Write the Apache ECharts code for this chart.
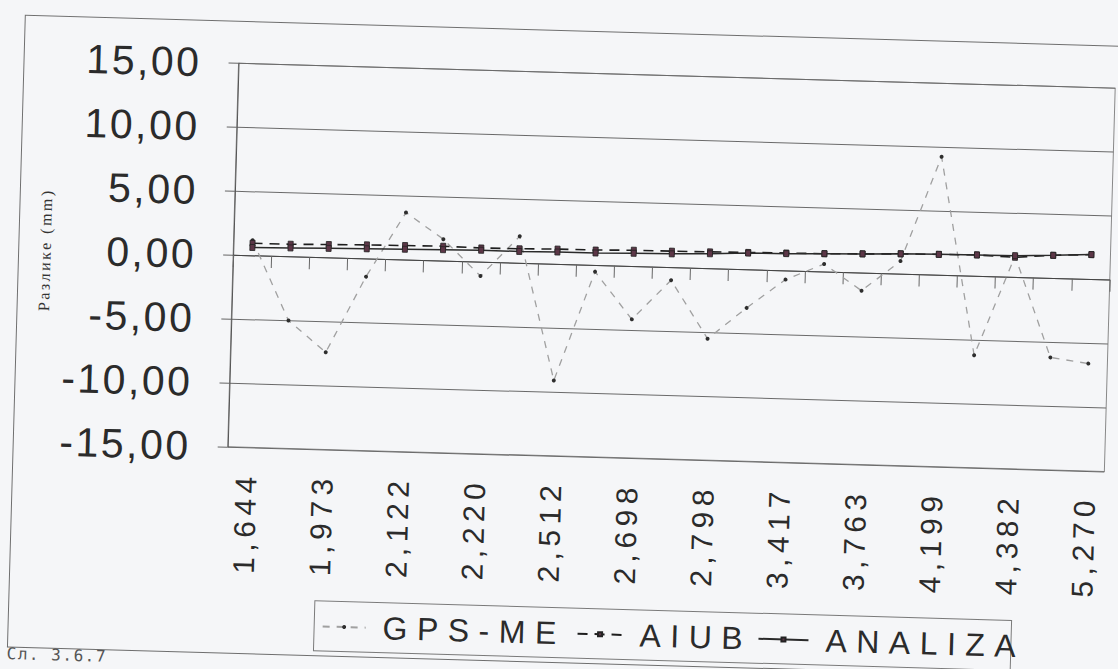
<!DOCTYPE html>
<html>
<head>
<meta charset="utf-8">
<script src="https://cdn.jsdelivr.net/npm/echarts@6/dist/echarts.min.js"></script>
<style>
  html, body { margin: 0; padding: 0; width: 1118px; height: 669px; overflow: hidden; background: #f5f6f8; }
  /* the printed page sits slightly askew on the scanner bed */
  #chart { position: absolute; left: 0; top: 0; width: 1118px; height: 700px;
           transform-origin: 559px 334.5px; transform: rotate(1.62deg); }
</style>
</head>
<body>
<div id="chart"></div>
<script>
// Baseline lengths (km); only every second one is printed on the axis
const categories = ['1,644', '', '1,973', '', '2,122', '', '2,220', '', '2,512', '', '2,698', '',
                    '2,798', '', '3,417', '', '3,763', '', '4,199', '', '4,382', '', '5,270'];

// Differences in mm
const gpsMe   = [1.2, -5.0, -7.4, -1.4, 3.7, 1.7, -1.1, 2.1, -9.1, -0.5, -4.15, -1.0,
                 -5.5, -3.0, -0.7, 0.6, -1.4, 1.0, 9.25, -6.2, 1.65, -6.2, -6.6];
const aiub    = [0.96, 0.97, 1.03, 1.09, 1.12, 1.15, 1.10, 1.12, 1.18, 1.19, 1.26, 1.27,
                 1.30, 1.34, 1.38, 1.41, 1.48, 1.57, 1.61, 1.65, 1.55, 1.79, 1.93];
const analiza = [0.63, 0.68, 0.73, 0.78, 0.83, 0.88, 0.92, 0.91, 0.95, 0.96, 1.02, 1.06,
                 1.15, 1.29, 1.33, 1.41, 1.48, 1.57, 1.61, 1.65, 1.68, 1.79, 1.93];

const seriesNames = ['GPS-ME', 'AIUB', 'ANALIZA'];
const yMin = -15, yMax = 15, yStep = 5;
const yAxisTitle = 'Разлике (mm)';
const caption = 'Сл. 3.6.7';

const ink = '#2b2b2b';
const sansFont = 'Liberation Sans';
const squareMarker = { color: '#5c3647', borderColor: '#222', borderWidth: 0.8 };

function legendAt(name, left, iconWidth) {
  return {
    data: [name], left: left, top: 617, padding: 0,
    itemWidth: iconWidth, itemHeight: 5, selectedMode: false,
    textStyle: { fontSize: 32, fontFamily: sansFont, color: ink, padding: [0, 0, 0, 12] }
  };
}

const option = {
  animation: false,
  backgroundColor: 'transparent',
  grid: { left: 231, top: 72.5, width: 877, height: 383.5, show: true,
          borderColor: '#888', borderWidth: 1, outerBoundsMode: 'none' },
  graphic: [
    { type: 'rect', left: 14, top: 28, silent: true,
      shape: { width: 1300, height: 632 },
      style: { fill: 'none', stroke: '#6f6f6f', lineWidth: 1 } },
    { type: 'rect', left: 320, top: 605, silent: true,
      shape: { width: 697, height: 50 },
      style: { fill: 'none', stroke: '#7a7a7a', lineWidth: 1 } },
    { type: 'text', left: 16, top: 661, silent: true,
      style: { text: caption, font: '16px "DejaVu Sans Mono"', fill: '#555' } }
  ],
  legend: [
    legendAt(seriesNames[0], 330, 43),
    legendAt(seriesNames[1], 585, 45),
    legendAt(seriesNames[2], 766, 50)
  ],
  xAxis: {
    type: 'category', data: categories, boundaryGap: true,
    axisLine: { show: true, lineStyle: { color: '#444', width: 1 } },
    axisTick: { show: true, interval: 0, length: 12, inside: false, lineStyle: { color: '#666', width: 1 } },
    axisLabel: { interval: 1, rotate: 90, margin: 24, fontSize: 30, fontFamily: sansFont, color: ink,
                 padding: [0, 0, 12, 0] },
    splitLine: { show: false }
  },
  yAxis: {
    type: 'value', min: yMin, max: yMax, interval: yStep,
    name: yAxisTitle, nameLocation: 'middle', nameRotate: 90, nameGap: 180,
    nameTextStyle: { fontFamily: 'Liberation Serif', fontSize: 16, color: '#333' },
    axisLine: { show: true, lineStyle: { color: '#555', width: 1 } },
    axisTick: { show: true, length: 10, inside: false, lineStyle: { color: '#666', width: 1 } },
    axisLabel: { margin: 37, fontSize: 41, fontFamily: sansFont, color: ink,
                 formatter: v => v.toFixed(2).replace('.', ',') },
    splitLine: { show: true, lineStyle: { color: '#6a6a6a', width: 1 } }
  },
  series: [
    { name: seriesNames[0], type: 'line', data: gpsMe, z: 2,
      symbol: 'circle', symbolSize: 4, showAllSymbol: true,
      itemStyle: { color: '#2e2e2e' },
      lineStyle: { color: '#a0a0a0', width: 1.3, type: [7, 7] },
      emphasis: { disabled: true } },
    { name: seriesNames[1], type: 'line', data: aiub, z: 3,
      symbol: 'rect', symbolSize: [5, 6], showAllSymbol: true,
      itemStyle: squareMarker,
      lineStyle: { color: '#1e1e1e', width: 1.6, type: [10, 7] },
      emphasis: { disabled: true } },
    { name: seriesNames[2], type: 'line', data: analiza, z: 4,
      symbol: 'rect', symbolSize: [5, 6], showAllSymbol: true,
      itemStyle: squareMarker,
      lineStyle: { color: '#2a2a2a', width: 1.5, type: 'solid' },
      emphasis: { disabled: true } }
  ]
};

const chart = echarts.init(document.getElementById('chart'), null, { renderer: 'svg' });
chart.setOption(option);

// Wide tracking of the printed lettering
function trackLetters() {
  document.querySelectorAll('#chart text').forEach(t => {
    const s = t.textContent;
    let ls = null;
    if (/^-?\d+,\d\d$/.test(s)) ls = 2.5;
    else if (/^\d,\d{3}$/.test(s)) ls = 5.5;
    else if (seriesNames.indexOf(s) >= 0) ls = 9.5;
    else if (s === yAxisTitle) ls = 2.5;
    else if (s === caption) ls = 1.5;
    if (ls !== null) t.setAttribute('letter-spacing', ls);
  });
}
chart.getZr().refreshImmediately();
trackLetters();
chart.on('finished', trackLetters);
</script>
</body>
</html>
